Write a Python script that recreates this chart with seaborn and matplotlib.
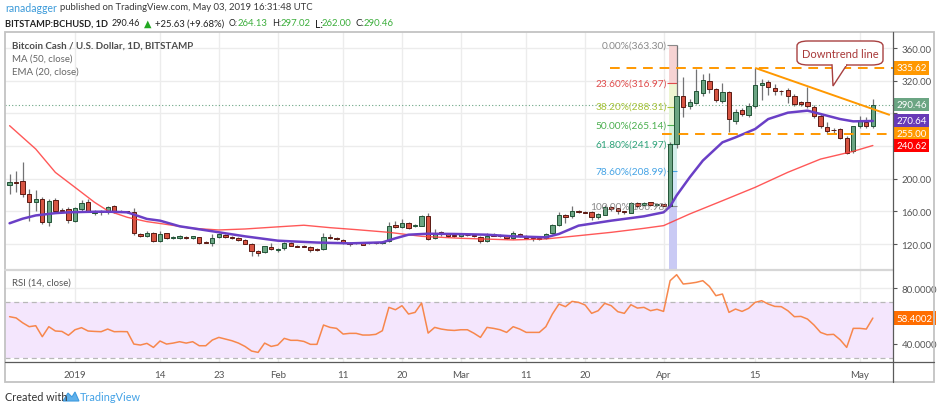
import numpy as np
import pandas as pd
import matplotlib
matplotlib.use("Agg")
import matplotlib.pyplot as plt
import matplotlib.transforms as mtrans
from matplotlib.patches import Rectangle, FancyBboxPatch, Polygon
import seaborn as sns

W, H = 939, 410

# daily candles, BITSTAMP BCHUSD, 22 Dec 2018 .. 03 May 2019
dates = pd.date_range("2018-12-22", "2019-05-03", freq="D")
opens = [192.6, 195.8, 196.7, 180.8, 171.0, 175.0, 147.4, 173.9, 162.0, 162.9,
         148.6, 162.9, 171.8, 157.5, 160.0, 158.8, 166.0, 161.0, 160.0, 158.8,
         132.3, 129.4, 133.5, 124.1, 133.5, 127.2, 127.8, 129.0, 127.3, 128.2,
         122.9, 121.2, 128.6, 131.4, 129.0, 127.4, 125.3, 120.4, 111.8, 109.8,
         116.4, 112.7, 115.1, 120.8, 118.0, 117.9, 116.8, 113.9, 113.9, 129.0,
         127.0, 124.9, 121.0, 120.8, 121.6, 120.8, 121.6, 121.6, 123.3, 143.3,
         141.2, 145.3, 142.0, 142.5, 153.9, 127.4, 134.3, 132.2, 130.6, 129.8,
         131.5, 130.5, 129.0, 123.3, 132.0, 131.4, 130.2, 127.4, 132.3, 130.2,
         128.2, 127.4, 127.0, 133.1, 143.3, 155.9, 153.9, 160.8, 159.2, 158.8,
         152.7, 156.0, 164.9, 163.7, 160.0, 158.0, 169.8, 167.8, 171.0, 167.8,
         168.8, 167.0, 242.4, 301.6, 288.5, 293.1, 305.0, 320.0, 309.8, 295.5,
         305.7, 270.2, 284.0, 278.0, 289.4, 314.7, 317.9, 311.0, 307.7, 308.5,
         301.6, 293.5, 293.5, 287.5, 277.0, 262.8, 259.6, 260.8, 249.8, 234.0,
         264.9, 270.0, 264.13]
highs = [205.7, 209.8, 220.0, 187.0, 186.5, 177.0, 175.0, 175.9, 163.5, 164.9,
         164.9, 173.5, 175.0, 162.0, 162.0, 167.0, 168.0, 162.0, 161.0, 163.7,
         134.0, 136.0, 135.0, 136.0, 134.0, 130.0, 131.0, 130.0, 130.0, 129.0,
         123.5, 132.3, 133.5, 132.5, 130.0, 128.0, 126.0, 121.0, 113.0, 118.0,
         121.0, 115.0, 122.0, 122.0, 119.0, 118.5, 118.0, 115.0, 134.0, 132.0,
         128.0, 126.0, 122.0, 123.0, 122.5, 123.0, 122.5, 124.0, 147.0, 148.0,
         151.0, 146.5, 144.0, 156.0, 158.0, 138.0, 135.5, 133.0, 131.5, 132.8,
         132.5, 131.5, 130.0, 133.0, 133.0, 132.5, 131.0, 136.0, 133.0, 131.0,
         128.8, 128.5, 133.0, 145.0, 159.6, 157.0, 166.0, 162.0, 160.0, 160.0,
         158.5, 167.5, 166.0, 164.5, 161.0, 172.0, 171.0, 171.5, 172.0, 170.0,
         169.5, 245.0, 363.3, 324.0, 297.0, 334.0, 328.0, 330.0, 311.0, 317.0,
         307.0, 285.0, 286.0, 293.0, 335.62, 322.0, 321.0, 316.0, 309.0, 311.0,
         304.0, 295.0, 311.8, 290.0, 279.0, 270.0, 262.0, 262.0, 252.0, 265.0,
         277.0, 276.0, 297.02]
lows = [181.2, 184.0, 177.0, 148.6, 160.8, 144.5, 141.6, 158.8, 160.0, 145.7,
        147.4, 160.8, 158.8, 155.0, 156.0, 156.7, 158.0, 159.0, 158.0, 131.0,
        128.0, 128.0, 122.0, 122.0, 126.0, 126.0, 126.5, 126.0, 126.0, 120.0,
        121.0, 117.0, 127.0, 127.0, 126.0, 124.0, 119.5, 105.7, 105.0, 109.0,
        113.0, 110.0, 113.0, 117.0, 116.0, 116.0, 110.0, 112.0, 113.0, 126.0,
        124.5, 120.0, 117.5, 119.5, 118.5, 119.5, 120.0, 120.5, 122.5, 140.0,
        140.0, 138.0, 140.5, 141.5, 125.0, 126.0, 130.0, 129.0, 129.0, 129.0,
        129.5, 129.0, 121.0, 122.0, 129.5, 128.5, 126.5, 126.5, 128.5, 127.0,
        124.0, 125.5, 126.0, 132.5, 142.0, 146.0, 152.0, 158.0, 157.5, 150.0,
        151.0, 155.0, 160.0, 157.0, 157.0, 157.5, 164.0, 166.5, 166.0, 166.5,
        166.0, 166.98, 238.0, 275.0, 285.0, 291.0, 301.0, 305.0, 294.0, 293.0,
        256.7, 267.0, 277.0, 276.0, 287.0, 296.0, 303.0, 302.0, 303.0, 293.0,
        289.0, 289.0, 287.0, 274.0, 262.0, 255.0, 256.0, 248.0, 230.0, 232.0,
        262.0, 262.0, 262.0]
closes = [196.3, 195.0, 180.8, 171.0, 175.0, 146.5, 173.0, 160.8, 160.8, 149.4,
          163.7, 170.2, 160.0, 160.4, 158.8, 164.9, 159.6, 160.0, 159.0, 133.5,
          129.4, 133.5, 124.1, 132.3, 126.9, 128.0, 130.2, 127.0, 129.4, 121.2,
          121.7, 127.4, 132.7, 128.2, 127.0, 124.9, 120.4, 111.0, 109.4, 117.2,
          113.9, 113.9, 121.2, 117.6, 116.8, 116.8, 113.1, 112.7, 128.2, 127.0,
          125.7, 120.8, 120.5, 122.0, 119.2, 121.5, 121.2, 122.9, 142.5, 141.2,
          145.7, 139.6, 143.0, 153.9, 126.1, 133.5, 131.8, 130.2, 129.8, 132.0,
          130.5, 129.8, 123.3, 130.0, 130.2, 129.4, 127.0, 133.1, 129.4, 127.8,
          127.0, 126.5, 132.3, 143.7, 155.5, 153.5, 160.8, 159.6, 158.4, 153.5,
          156.7, 164.9, 162.9, 160.8, 158.8, 170.2, 167.0, 170.2, 167.8, 169.4,
          167.0, 242.4, 301.6, 287.3, 294.3, 307.7, 321.2, 309.8, 296.7, 305.7,
          273.0, 281.2, 279.2, 289.4, 314.7, 316.7, 311.8, 307.7, 307.0, 301.6,
          291.4, 291.4, 289.4, 277.0, 264.0, 258.8, 259.0, 249.8, 231.4, 264.9,
          270.2, 264.83, 290.46]
rsi = [59.4, 58.5, 55.0, 52.2, 52.9, 45.0, 52.2, 49.1, 48.8, 46.0,
       50.0, 51.5, 49.1, 48.8, 48.6, 50.5, 48.6, 48.7, 48.6, 39.7,
       39.0, 40.2, 37.3, 41.9, 39.7, 40.4, 41.4, 40.4, 41.4, 38.5,
       38.5, 42.6, 44.5, 43.3, 42.1, 40.4, 38.0, 34.7, 33.7, 40.4,
       38.0, 39.0, 43.8, 42.4, 42.4, 41.6, 39.5, 39.5, 53.4, 51.7,
       51.0, 46.9, 47.4, 47.4, 46.2, 46.2, 46.7, 49.3, 66.1, 64.4,
       67.3, 61.3, 62.5, 69.2, 47.6, 51.7, 50.5, 49.8, 49.5, 50.0,
       50.0, 47.5, 44.5, 51.7, 51.0, 50.0, 48.1, 52.2, 50.5, 48.1,
       48.1, 48.1, 52.2, 61.3, 68.5, 66.6, 70.4, 69.7, 67.8, 61.8,
       63.7, 69.0, 67.3, 63.0, 61.8, 68.0, 65.6, 66.1, 63.7, 64.7,
       63.2, 85.3, 89.6, 82.9, 83.4, 84.1, 85.3, 81.2, 74.5, 75.7,
       62.5, 64.9, 63.2, 65.4, 69.7, 70.9, 68.5, 66.8, 66.6, 63.7,
       59.4, 59.6, 57.7, 53.4, 48.1, 46.4, 46.7, 42.8, 37.3, 51.0,
       51.0, 50.5, 58.4002]

# moving averages (days counted from 1 Jan 2019)
ma50_days = [-10, -8, -6, -3, 0, 3, 5, 8, 11, 14, 18, 22, 26, 31, 35, 39, 43,
             48, 53, 59, 67, 72, 77, 82, 87, 90, 94, 99, 104, 109, 114, 119, 122]
ma50_vals = [264.9, 250.6, 236.3, 207.7, 189.4, 171.0, 160.8, 152.7, 147.4, 144.0,
             139.2, 137.2, 138.4, 141.0, 143.0, 140.0, 137.6, 134.3, 129.4, 127.0,
             125.0, 126.2, 130.2, 134.3, 139.2, 142.5, 156.8, 173.0, 189.4, 207.8,
             224.0, 233.5, 240.62]
ema20_days = [-10, -8, -6, -3, -1, 2, 4, 6, 8, 11, 13, 16, 21, 26, 31, 33, 37, 42,
              47, 49, 51, 54, 58, 63, 67, 72, 74, 77, 82, 87, 90, 91, 92, 94, 96, 99,
              101, 104, 106, 109, 112, 114, 117, 119, 122]
ema20_vals = [145.4, 151.0, 155.0, 157.8, 158.8, 159.4, 159.6, 159.4, 158.8, 150.7,
              148.6, 141.7, 135.6, 129.4, 124.1, 123.3, 121.8, 120.8, 122.0, 127.0,
              131.4, 132.6, 132.3, 131.4, 129.4, 128.2, 132.3, 142.5, 148.6, 153.9,
              158.8, 166.0, 179.5, 201.7, 222.1, 244.5, 250.6, 260.8, 273.0, 280.8,
              283.3, 279.2, 273.0, 270.2, 270.64]

fib_names = ["0.00%", "23.60%", "38.20%", "50.00%", "61.80%", "78.60%", "100.00%"]
fib_prices = [363.30, 316.97, 288.31, 265.14, 241.97, 208.99, 166.98]
fib_colors = ["#8a8a8a", "#e04c4c", "#a8c43a", "#4caf50", "#2ea37a", "#45a3e5", "#8a8a8a"]
fib_fills = ["#f6d3d3", "#eef6d2", "#e3f4d6", "#d5f1dc", "#d3eeea", "#d4e6f7"]

level_prices = [335.62, 255.00]
trend_days = [104, 124.6]
trend_prices = [335.62, 278.0]

price_ticks = [120, 160, 200, 240, 280, 320, 360]
price_tick_labels = ["120.00", "160.00", "200.00", "", "", "320.00", "360.00"]

tick_dates = ["2019-01-01", "2019-01-14", "2019-01-23", "2019-02-01", "2019-02-11",
              "2019-02-20", "2019-03-01", "2019-03-11", "2019-03-20", "2019-04-01",
              "2019-04-15", "2019-05-01"]
tick_labels = ["2019", "14", "23", "Feb", "11", "20", "Mar", "11", "20", "Apr", "15", "May"]

sns.set_theme(style="white")
plt.rcParams["font.family"] = ["Lato", "DejaVu Sans"]

origin = pd.Timestamp("2019-01-01")
x = np.asarray((dates - origin).days, dtype=float)
o, hi, lo, c = map(np.asarray, (opens, highs, lows, closes))
xt = np.asarray((pd.to_datetime(tick_dates) - origin).days, dtype=float)

GRID = "#ececec"
TXT = "#555555"


def fx(px):
    return px / W


def fy(py):
    return 1 - py / H


fig = plt.figure(figsize=(W / 100, H / 100), dpi=100)
renderer = fig.canvas.get_renderer()


def fit_text(xp, yp, s, width, size=7.6, **kw):
    # put text at pixel position and shrink it to the width seen in the reference
    t = fig.text(fx(xp), fy(yp), s, fontsize=size, va="center", **kw)
    w = t.get_window_extent(renderer).width
    if w > width:
        t.set_fontsize(size * width / w)
    return t


ax = fig.add_axes([fx(5), fy(270), 888 / W, 237 / H])
axr = fig.add_axes([fx(5), fy(363), 888 / W, 93 / H])

for a in (ax, axr):
    a.set_xlim(-10.70, 125.08)
    for s in a.spines.values():
        s.set_visible(False)
    for t in xt:
        a.axvline(t, color=GRID, lw=1, zorder=0)

ax.set_ylim(89.4, 379.6)
for v in price_ticks:
    ax.axhline(v, color=GRID, lw=1, zorder=0)
axr.set_ylim(26.8, 93.7)
for v in (40, 60, 80):
    axr.axhline(v, color=GRID, lw=1, zorder=0)

# price panel ----------------------------------------------------------
ax.axhline(closes[-1], color="#6ba583", lw=0.8, ls=(0, (1, 2)), zorder=1)

# fib strip
fx0, fx1 = 90.85, 92.0
for i in range(len(fib_fills)):
    ax.fill_between([fx0, fx1], fib_prices[i + 1], fib_prices[i], color=fib_fills[i], lw=0, zorder=1)
ax.fill_between([fx0, fx1], 89.4, fib_prices[-1], color="#c9caf4", lw=0, zorder=1)
for name, p, col in zip(fib_names, fib_prices, fib_colors):
    ax.hlines(p, fx0 - 0.3, fx1, color=col, lw=0.8, zorder=2)
    ax.text(90.5, p, f"{name}({p:.2f})", color=col, fontsize=7.3, ha="right", va="center", zorder=6)

up = c >= o
body = np.maximum(np.abs(c - o), 0.8)
base = np.minimum(o, c)
ax.vlines(x, lo, hi, color="#737375", lw=0.9, zorder=3)
ax.bar(x[up], body[up], bottom=base[up], width=0.66, color="#6ba583",
       edgecolor="#225437", lw=0.7, zorder=4)
ax.bar(x[~up], body[~up], bottom=base[~up], width=0.66, color="#d75442",
       edgecolor="#5b1a13", lw=0.7, zorder=4)

sns.lineplot(x=ma50_days, y=ma50_vals, ax=ax, color="#ff3b3b", lw=1, alpha=0.85, zorder=5)
sns.lineplot(x=ema20_days, y=ema20_vals, ax=ax, color="#6a3fc6", lw=1.8, zorder=5)

for p, x0 in zip(level_prices, [81.8, 89.8]):
    ax.hlines(p, x0, 125.08, color="#ff9800", lw=1.4, ls=(0, (5, 3.5)), zorder=6)
ax.plot(trend_days, trend_prices, color="#ff9800", lw=1.4, zorder=6, solid_capstyle="butt")

ax.set_xticks(xt)
ax.tick_params(axis="x", labelbottom=False, length=0)
ax.yaxis.tick_right()
ax.set_yticks(price_ticks)
ax.set_yticklabels(price_tick_labels)
ax.tick_params(axis="y", length=3, width=0.8, color="#555555", pad=3, labelsize=7, labelcolor=TXT)
ax.set_xlabel("")
ax.set_ylabel("")

off = mtrans.offset_copy(ax.get_yaxis_transform(), fig=fig, x=3.5, y=0, units="dots")
tags = [(335.62, "#ff9800"), (closes[-1], "#6ba583"), (ema20_vals[-1], "#673ab7"),
        (255.00, "#ff9800"), (ma50_vals[-1], "#ff0000")]
for val, col in tags:
    ax.text(1.0, val, f"{val:.2f}", transform=off, ha="left", va="center", color="white",
            fontsize=7, clip_on=False, zorder=20,
            bbox=dict(boxstyle="square,pad=0.22", fc=col, ec="none"))

fit_text(12, 46, "Bitcoin Cash / U.S. Dollar, 1D, BITSTAMP", 179, color="#4d4d4d", fontweight="bold")
fit_text(12, 59.5, "MA (50, close)", 61, color="#666666")
fit_text(12, 72.5, "EMA (20, close)", 67, color="#666666")

# RSI panel ------------------------------------------------------------
axr.axhspan(30, 70, color="#f4e6fd", lw=0, zorder=0.5)
for v in (30, 70):
    axr.axhline(v, color="#b8b8b8", lw=0.9, ls=(0, (4, 3)), zorder=1)
sns.lineplot(x=x, y=rsi, ax=axr, color="#f7874c", lw=1.1, zorder=4)
axr.yaxis.tick_right()
axr.set_yticks([40, 80])
axr.set_yticklabels(["40.0000", "80.0000"])
axr.tick_params(axis="y", length=3, width=0.8, color="#555555", pad=3, labelsize=7, labelcolor=TXT)
axr.set_xticks(xt)
axr.set_xticklabels(tick_labels)
axr.tick_params(axis="x", length=0, pad=6, labelsize=7, labelcolor=TXT)
axr.set_xlabel("")
axr.set_ylabel("")
fit_text(12, 283, "RSI (14, close)", 59, color="#555555")
offr = mtrans.offset_copy(axr.get_yaxis_transform(), fig=fig, x=3.5, y=0, units="dots")
axr.text(1.0, rsi[-1], f"{rsi[-1]:.4f}", transform=offr, ha="left", va="center", color="white",
         fontsize=7, clip_on=False, zorder=20,
         bbox=dict(boxstyle="square,pad=0.3", fc="#ff6d00", ec="none"))

# frame lines ----------------------------------------------------------
def hline_px(y, x0, x1, col, lw):
    fig.add_artist(plt.Line2D([fx(x0), fx(x1)], [fy(y), fy(y)], color=col, lw=lw))


def vline_px(xp, y0, y1, col, lw):
    fig.add_artist(plt.Line2D([fx(xp), fx(xp)], [fy(y0), fy(y1)], color=col, lw=lw))


fig.add_artist(Rectangle((fx(5), fy(383)), 929 / W, 350 / H, transform=fig.transFigure,
                         fill=False, ec="#c3c3c3", lw=1.3))
hline_px(270.5, 5, 893, "#d6d6d6", 1.6)
hline_px(363, 5, 934, "#5a5a5a", 0.9)
vline_px(893, 33, 383, "#5a5a5a", 0.9)

# callout --------------------------------------------------------------
box = FancyBboxPatch((fx(797), fy(66)), 86 / W, 24 / H, transform=fig.transFigure,
                     boxstyle="round,pad=0,rounding_size=0.012", fc="white", ec="#a84040", lw=1)
fig.add_artist(box)
tail = Polygon([(fx(832), fy(65.5)), (fx(833), fy(87)), (fx(847), fy(65.5))],
               closed=False, transform=fig.transFigure, fc="white", ec="#a84040", lw=1)
fig.add_artist(tail)
fig.add_artist(Rectangle((fx(833), fy(67)), 13 / W, 2.5 / H, transform=fig.transFigure,
                         fc="white", ec="none"))
fig.text(fx(840), fy(54), "Downtrend line", color="#a83838", fontsize=8, ha="center", va="center")

# header ---------------------------------------------------------------
fit_text(5, 8, "ranadagger", 52, color="#3b9ad9")
fit_text(60, 8, "published on TradingView.com, May 03, 2019 16:31:48 UTC", 253, color="#3a3a3a")
fit_text(5, 24, "BITSTAMP:BCHUSD, 1D", 103, color="#222222", fontweight="bold")
fit_text(112, 24, "290.46", 28, color="#222222")
fit_text(144, 24, "▲", 9, size=7, color="#22a822", family="DejaVu Sans")
fit_text(155, 24, "+25.63 (+9.68%)", 69, color="#222222")
hdr = [("O:", 229, "264.13", 238), ("H:", 272, "297.02", 281),
       ("L:", 315, "262.00", 322), ("C:", 355, "290.46", 364)]
for k, kx, v, vx in hdr:
    fit_text(kx, 24, k, 9, color="#222222")
    fit_text(vx, 24, v, 30, color="#3cae3c")

# footer ---------------------------------------------------------------
fig.text(fx(5), fy(398), "Created with", color="#333333", fontsize=7.8, va="center")
fig.add_artist(Polygon([(fx(63), fy(402)), (fx(68), fy(394)), (fx(72), fy(398)),
                        (fx(75), fy(393)), (fx(79), fy(402))],
                       closed=True, transform=fig.transFigure, fc="#5fb0ea", ec="#3d9be0", lw=0.8))
fig.text(fx(80), fy(398), "TradingView", color="#44a2e6", fontsize=7.8, va="center")

fig.savefig("out.png", dpi=100)
